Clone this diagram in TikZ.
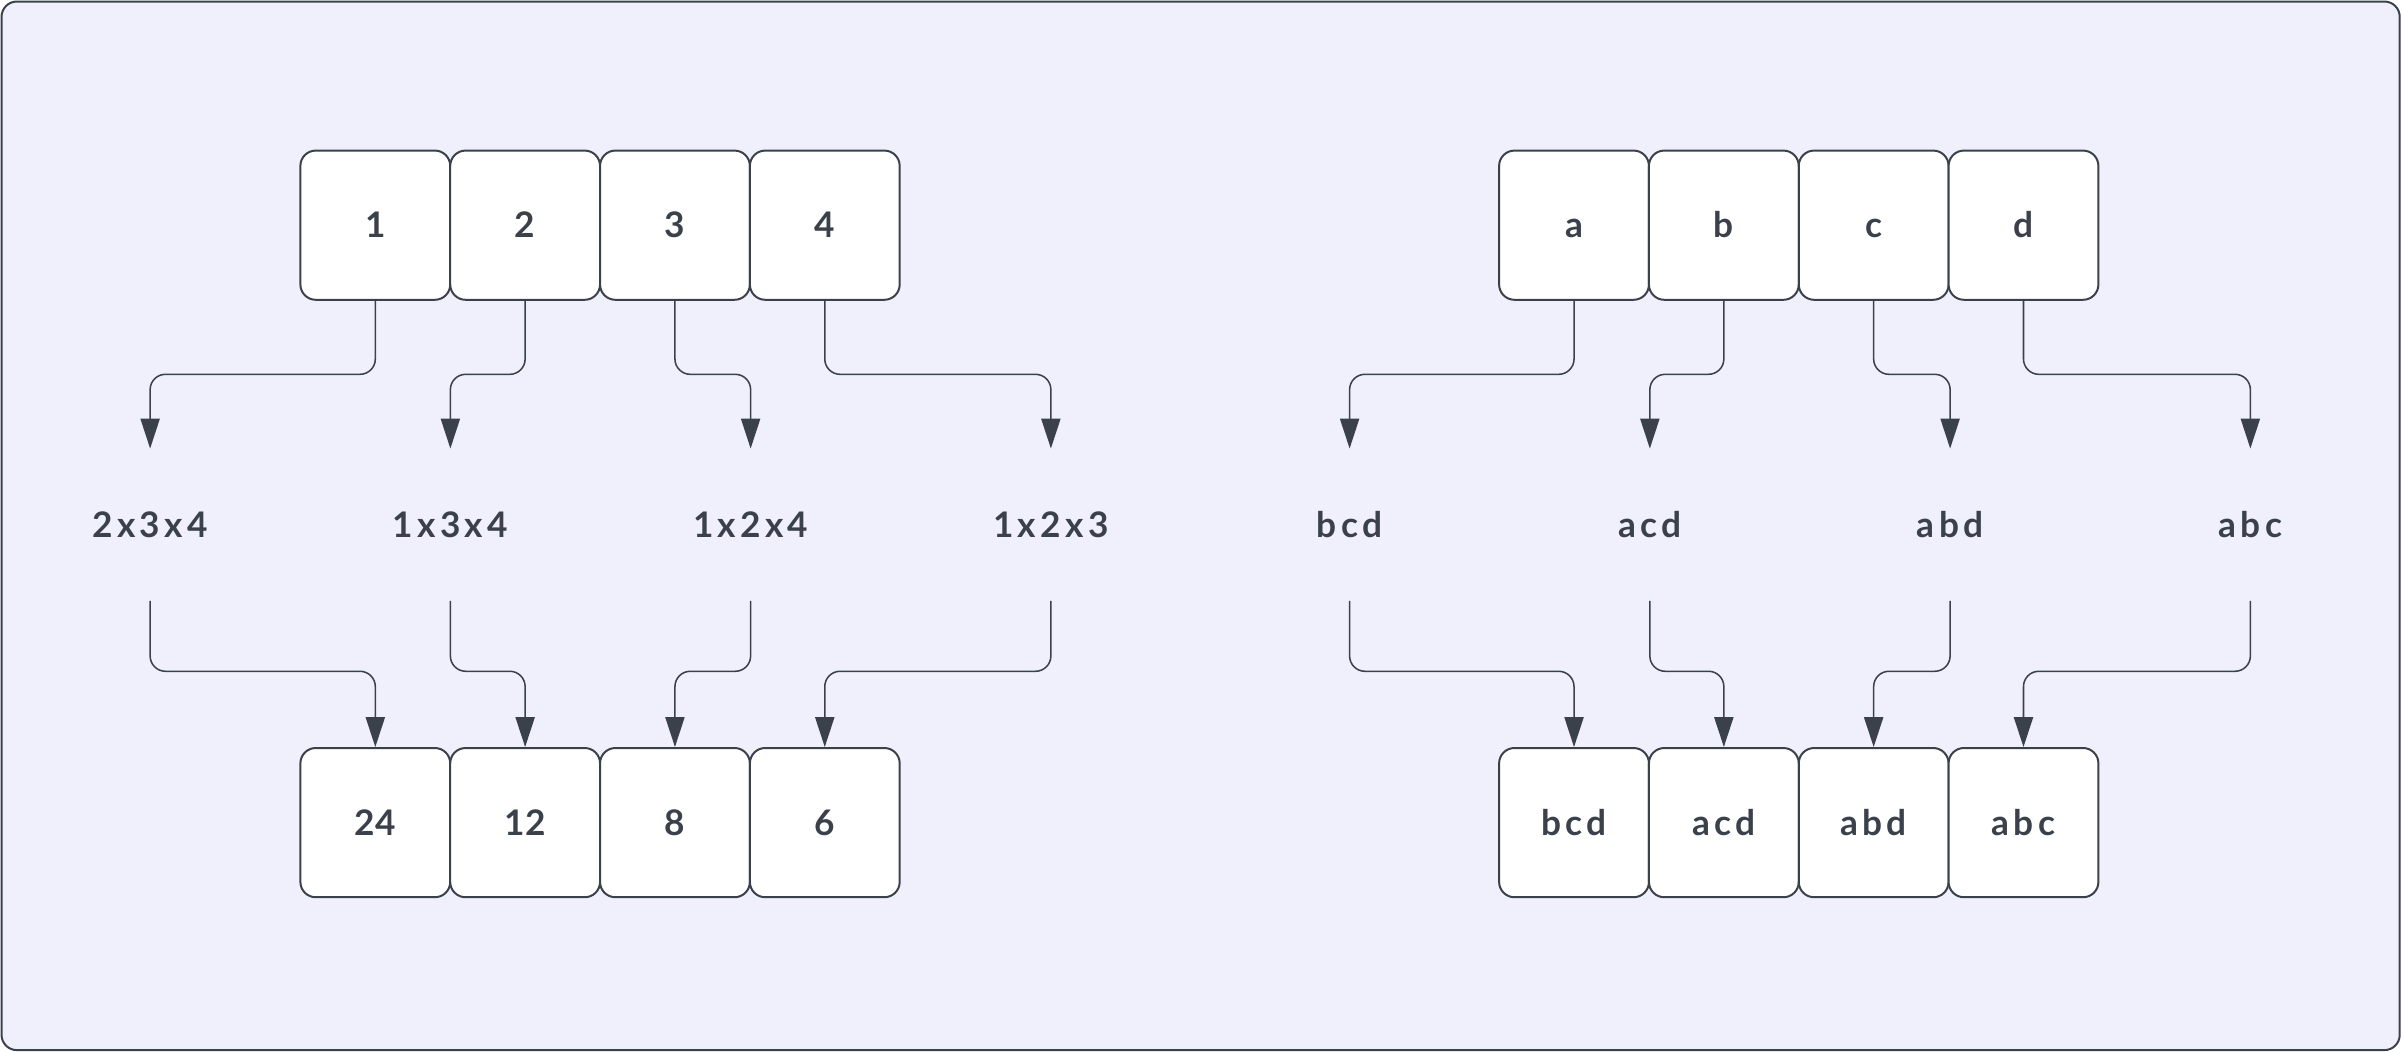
\documentclass[tikz,border=0pt]{standalone}
\usepackage{fontspec}
\setmainfont{Lato}[WordSpace=0.5]
\usetikzlibrary{arrows.meta}
\definecolor{ink}{RGB}{59,65,75}
\definecolor{paper}{RGB}{240,240,252}
\tikzset{
  cell/.style={draw=ink, line width=1.3pt, fill=white, rounded corners=10pt,
    minimum width=97.8pt, minimum height=97.4pt, inner sep=0pt,
    text height=16.6pt, text depth=0pt,
    text=ink, font=\fontsize{23}{28}\selectfont\bfseries},
  prod/.style={minimum width=90pt, minimum height=99pt, inner sep=0pt,
    text height=16.6pt, text depth=0pt,
    text=ink, font=\fontsize{23}{28}\selectfont\bfseries},
  link/.style={draw=ink, line width=1pt, rounded corners=10pt,
    -{Triangle[length=19.5pt,width=12.5pt]}}
}
\begin{document}
\begin{tikzpicture}[x=1pt,y=1pt,yscale=-1,xscale=1]
\useasboundingbox (0,0) rectangle (1568,686.7);
%Frame
\draw [draw=ink, fill=paper, line width=1.3pt, rounded corners=10pt] (1,1) rectangle (1566.5,685.5);

% Top row, numbers
\node [cell] (n1) at (245,147) {1};
\node [cell] (n2) at (342.8,147) {2};
\node [cell] (n3) at (440.6,147) {3};
\node [cell] (n4) at (538.4,147) {4};
% Top row, letters
\node [cell] (l1) at (1027.5,147) {a};
\node [cell] (l2) at (1125.3,147) {b};
\node [cell] (l3) at (1223.1,147) {c};
\node [cell] (l4) at (1320.9,147) {d};

% Text Node
\node [prod] (p1) at (98,342.5) {2 x 3 x 4};
\node [prod] (p2) at (294,342.5) {1 x 3 x 4};
\node [prod] (p3) at (490,342.5) {1 x 2 x 4};
\node [prod] (p4) at (686,342.5) {1 x 2 x 3};
% Text Node
\node [prod] (q1) at (881,342.5) {b c d};
\node [prod] (q2) at (1077,342.5) {a c d};
\node [prod] (q3) at (1273,342.5) {a b d};
\node [prod] (q4) at (1469,342.5) {a b c};

% Bottom row, numbers
\node [cell] (r1) at (245,537) {24};
\node [cell] (r2) at (342.8,537) {12};
\node [cell] (r3) at (440.6,537) {8};
\node [cell] (r4) at (538.4,537) {6};
% Bottom row, letters
\node [cell] (s1) at (1027.5,537) {b c d};
\node [cell] (s2) at (1125.3,537) {a c d};
\node [cell] (s3) at (1223.1,537) {a b d};
\node [cell] (s4) at (1320.9,537) {a b c};

%Connectors, top
\draw [link] (n1.south) -- ++(0,48) -| (p1.north);
\draw [link] (n2.south) -- ++(0,48) -| (p2.north);
\draw [link] (n3.south) -- ++(0,48) -| (p3.north);
\draw [link] (n4.south) -- ++(0,48) -| (p4.north);
\draw [link] (l1.south) -- ++(0,48) -| (q1.north);
\draw [link] (l2.south) -- ++(0,48) -| (q2.north);
\draw [link] (l3.south) -- ++(0,48) -| (q3.north);
\draw [link] (l4.south) -- ++(0,48) -| (q4.north);

%Connectors, bottom
\draw [link] (p1.south) -- ++(0,46) -| (r1.north);
\draw [link] (p2.south) -- ++(0,46) -| (r2.north);
\draw [link] (p3.south) -- ++(0,46) -| (r3.north);
\draw [link] (p4.south) -- ++(0,46) -| (r4.north);
\draw [link] (q1.south) -- ++(0,46) -| (s1.north);
\draw [link] (q2.south) -- ++(0,46) -| (s2.north);
\draw [link] (q3.south) -- ++(0,46) -| (s3.north);
\draw [link] (q4.south) -- ++(0,46) -| (s4.north);

\end{tikzpicture}
\end{document}
